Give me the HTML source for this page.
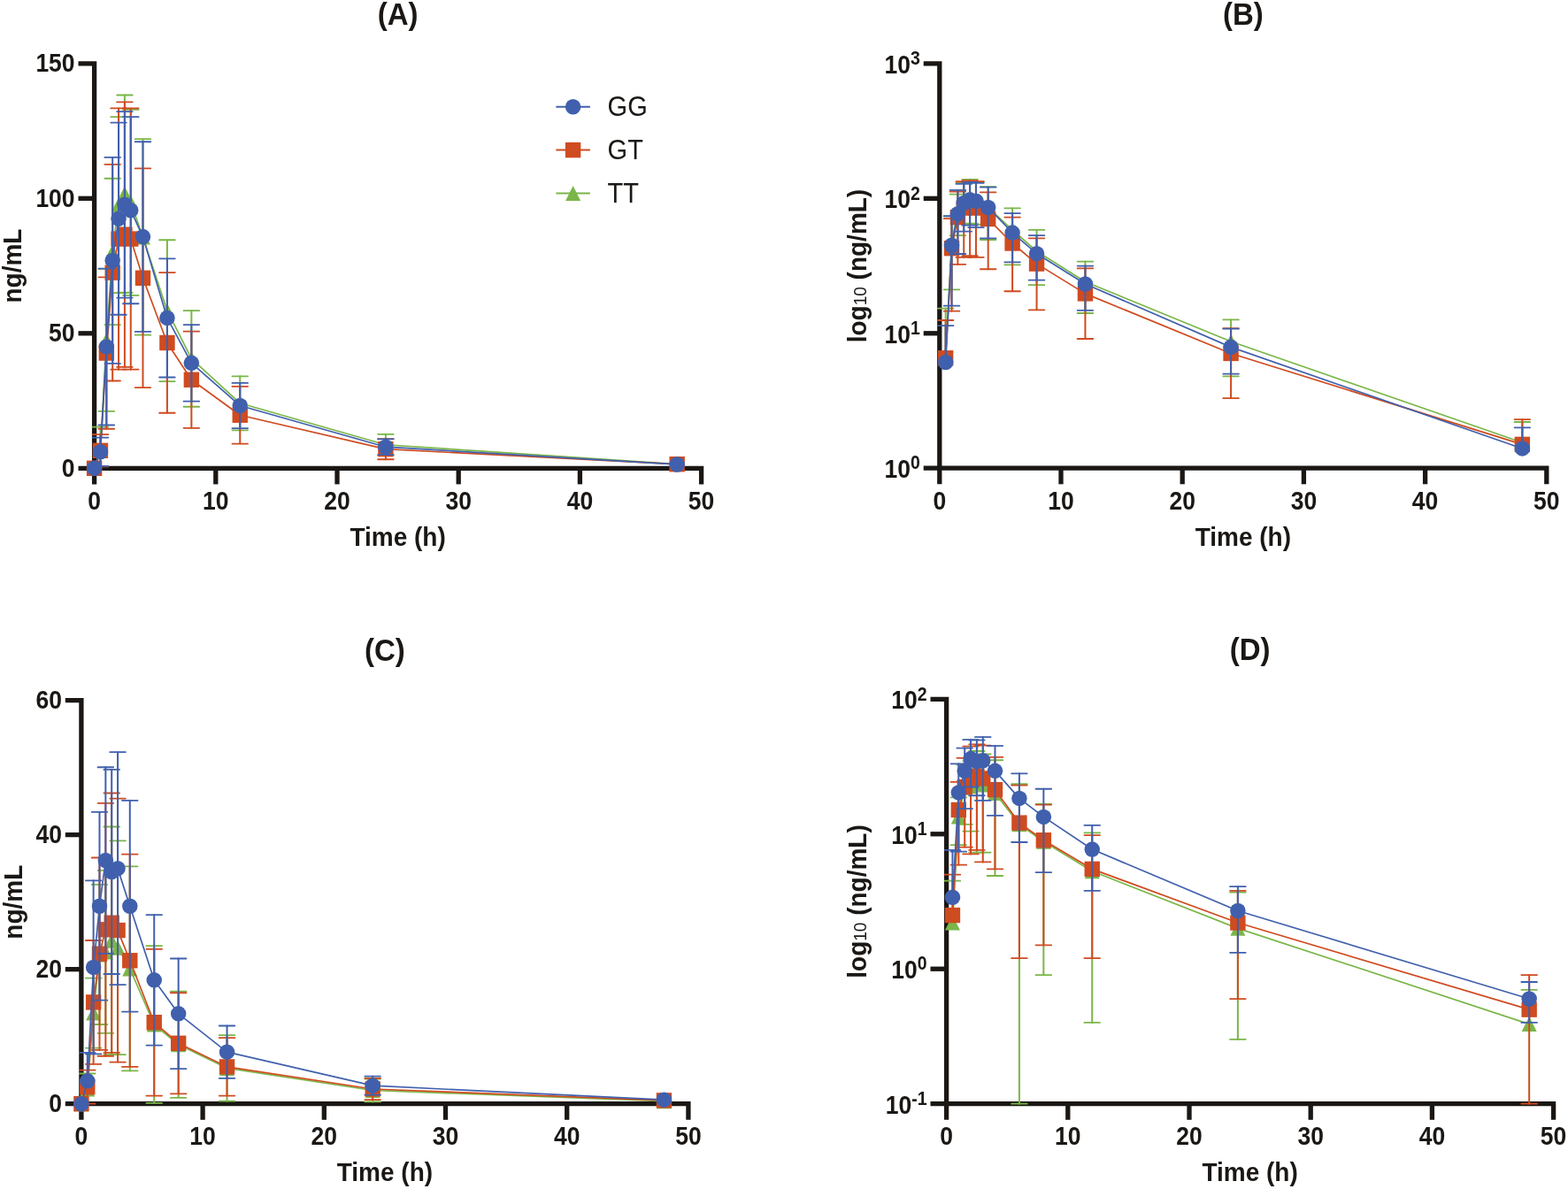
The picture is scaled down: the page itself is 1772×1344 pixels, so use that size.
<!DOCTYPE html><html><head><meta charset="utf-8"><title>Figure</title><style>html,body{margin:0;padding:0;background:#fff;}svg{display:block;}</style></head><body>
<svg width="1772" height="1344" viewBox="0 0 1772 1344" font-family="'Liberation Sans', Arial, sans-serif" fill="#1a1714">
<rect width="1772" height="1344" fill="#fff"/>
<text transform="translate(449.6,27.5) scale(1,1.06)" text-anchor="middle" font-weight="bold" font-size="33">(A)</text>
<g stroke="#1a1714" stroke-width="5.3" fill="none" stroke-linejoin="miter"><path d="M88.5 71.8H106.6V547.4"/><path d="M88.5 529.3H792.6V547.4"/><line x1="88.5" y1="376.8" x2="106.6" y2="376.8"/><line x1="88.5" y1="224.3" x2="106.6" y2="224.3"/><line x1="243.8" y1="529.3" x2="243.8" y2="547.4"/><line x1="381" y1="529.3" x2="381" y2="547.4"/><line x1="518.2" y1="529.3" x2="518.2" y2="547.4"/><line x1="655.4" y1="529.3" x2="655.4" y2="547.4"/></g>
<g stroke="#7ab648" fill="none" stroke-linecap="round"><line x1="113.46" y1="508.25" x2="113.46" y2="482.63" stroke-width="2.0"/><line x1="104.66" y1="482.63" x2="122.26" y2="482.63" stroke-width="1.8"/><line x1="120.32" y1="384.42" x2="120.32" y2="303.9" stroke-width="2.0"/><line x1="111.52" y1="303.9" x2="129.12" y2="303.9" stroke-width="1.8"/><line x1="120.32" y1="384.42" x2="120.32" y2="464.94" stroke-width="2.0"/><line x1="111.52" y1="464.94" x2="129.12" y2="464.94" stroke-width="1.8"/><line x1="127.18" y1="284.38" x2="127.18" y2="201.73" stroke-width="2.0"/><line x1="118.38" y1="201.73" x2="135.98" y2="201.73" stroke-width="1.8"/><line x1="127.18" y1="284.38" x2="127.18" y2="367.04" stroke-width="2.0"/><line x1="118.38" y1="367.04" x2="135.98" y2="367.04" stroke-width="1.8"/><line x1="134.04" y1="231.62" x2="134.04" y2="132.19" stroke-width="2.0"/><line x1="125.24" y1="132.19" x2="142.84" y2="132.19" stroke-width="1.8"/><line x1="134.04" y1="231.62" x2="134.04" y2="331.05" stroke-width="2.0"/><line x1="125.24" y1="331.05" x2="142.84" y2="331.05" stroke-width="1.8"/><line x1="140.9" y1="219.11" x2="140.9" y2="107.49" stroke-width="2.0"/><line x1="132.1" y1="107.49" x2="149.7" y2="107.49" stroke-width="1.8"/><line x1="140.9" y1="219.11" x2="140.9" y2="330.75" stroke-width="2.0"/><line x1="132.1" y1="330.75" x2="149.7" y2="330.75" stroke-width="1.8"/><line x1="147.76" y1="228.88" x2="147.76" y2="123.95" stroke-width="2.0"/><line x1="138.96" y1="123.95" x2="156.56" y2="123.95" stroke-width="1.8"/><line x1="147.76" y1="228.88" x2="147.76" y2="333.79" stroke-width="2.0"/><line x1="138.96" y1="333.79" x2="156.56" y2="333.79" stroke-width="1.8"/><line x1="161.48" y1="267.91" x2="161.48" y2="157.2" stroke-width="2.0"/><line x1="152.68" y1="157.2" x2="170.28" y2="157.2" stroke-width="1.8"/><line x1="161.48" y1="267.91" x2="161.48" y2="378.63" stroke-width="2.0"/><line x1="152.68" y1="378.63" x2="170.28" y2="378.63" stroke-width="1.8"/><line x1="188.92" y1="351.18" x2="188.92" y2="271.27" stroke-width="2.0"/><line x1="180.12" y1="271.27" x2="197.72" y2="271.27" stroke-width="1.8"/><line x1="188.92" y1="351.18" x2="188.92" y2="431.09" stroke-width="2.0"/><line x1="180.12" y1="431.09" x2="197.72" y2="431.09" stroke-width="1.8"/><line x1="216.36" y1="405.47" x2="216.36" y2="351.18" stroke-width="2.0"/><line x1="207.56" y1="351.18" x2="225.16" y2="351.18" stroke-width="1.8"/><line x1="216.36" y1="405.47" x2="216.36" y2="459.76" stroke-width="2.0"/><line x1="207.56" y1="459.76" x2="225.16" y2="459.76" stroke-width="1.8"/><line x1="271.24" y1="455.79" x2="271.24" y2="425.29" stroke-width="2.0"/><line x1="262.44" y1="425.29" x2="280.04" y2="425.29" stroke-width="1.8"/><line x1="271.24" y1="455.79" x2="271.24" y2="486.29" stroke-width="2.0"/><line x1="262.44" y1="486.29" x2="280.04" y2="486.29" stroke-width="1.8"/><line x1="435.88" y1="502.76" x2="435.88" y2="490.87" stroke-width="2.0"/><line x1="427.08" y1="490.87" x2="444.68" y2="490.87" stroke-width="1.8"/><line x1="435.88" y1="502.76" x2="435.88" y2="514.66" stroke-width="2.0"/><line x1="427.08" y1="514.66" x2="444.68" y2="514.66" stroke-width="1.8"/></g>
<polyline points="106.6,529.3 113.46,508.25 120.32,384.42 127.18,284.38 134.04,231.62 140.9,219.11 147.76,228.88 161.48,267.91 188.92,351.18 216.36,405.47 271.24,455.79 435.88,502.76 765.16,524.57" fill="none" stroke="#7ab648" stroke-width="1.7" stroke-linejoin="round"/>
<polygon points="106.6,520.8 115.1,537.8 98.1,537.8" fill="#7ab648"/><polygon points="113.46,499.75 121.96,516.75 104.96,516.75" fill="#7ab648"/><polygon points="120.32,375.92 128.82,392.92 111.82,392.92" fill="#7ab648"/><polygon points="127.18,275.88 135.68,292.88 118.68,292.88" fill="#7ab648"/><polygon points="134.04,223.12 142.54,240.12 125.54,240.12" fill="#7ab648"/><polygon points="140.9,210.61 149.4,227.61 132.4,227.61" fill="#7ab648"/><polygon points="147.76,220.38 156.26,237.38 139.26,237.38" fill="#7ab648"/><polygon points="161.48,259.41 169.98,276.41 152.98,276.41" fill="#7ab648"/><polygon points="188.92,342.68 197.42,359.68 180.42,359.68" fill="#7ab648"/><polygon points="216.36,396.97 224.86,413.97 207.86,413.97" fill="#7ab648"/><polygon points="271.24,447.29 279.74,464.29 262.74,464.29" fill="#7ab648"/><polygon points="435.88,494.26 444.38,511.26 427.38,511.26" fill="#7ab648"/><polygon points="765.16,516.07 773.66,533.07 756.66,533.07" fill="#7ab648"/>
<g stroke="#cf4b20" fill="none" stroke-linecap="round"><line x1="113.46" y1="509.32" x2="113.46" y2="491.17" stroke-width="2.0"/><line x1="104.66" y1="491.17" x2="122.26" y2="491.17" stroke-width="1.8"/><line x1="113.46" y1="509.32" x2="113.46" y2="527.47" stroke-width="2.0"/><line x1="104.66" y1="527.47" x2="122.26" y2="527.47" stroke-width="1.8"/><line x1="120.32" y1="399.06" x2="120.32" y2="313.36" stroke-width="2.0"/><line x1="111.52" y1="313.36" x2="129.12" y2="313.36" stroke-width="1.8"/><line x1="120.32" y1="399.06" x2="120.32" y2="484.77" stroke-width="2.0"/><line x1="111.52" y1="484.77" x2="129.12" y2="484.77" stroke-width="1.8"/><line x1="127.18" y1="308.17" x2="127.18" y2="185.87" stroke-width="2.0"/><line x1="118.38" y1="185.87" x2="135.98" y2="185.87" stroke-width="1.8"/><line x1="127.18" y1="308.17" x2="127.18" y2="430.48" stroke-width="2.0"/><line x1="118.38" y1="430.48" x2="135.98" y2="430.48" stroke-width="1.8"/><line x1="134.04" y1="270.05" x2="134.04" y2="122.43" stroke-width="2.0"/><line x1="125.24" y1="122.43" x2="142.84" y2="122.43" stroke-width="1.8"/><line x1="134.04" y1="270.05" x2="134.04" y2="417.67" stroke-width="2.0"/><line x1="125.24" y1="417.67" x2="142.84" y2="417.67" stroke-width="1.8"/><line x1="140.9" y1="265.17" x2="140.9" y2="115.42" stroke-width="2.0"/><line x1="132.1" y1="115.42" x2="149.7" y2="115.42" stroke-width="1.8"/><line x1="140.9" y1="265.17" x2="140.9" y2="414.93" stroke-width="2.0"/><line x1="132.1" y1="414.93" x2="149.7" y2="414.93" stroke-width="1.8"/><line x1="147.76" y1="270.05" x2="147.76" y2="122.43" stroke-width="2.0"/><line x1="138.96" y1="122.43" x2="156.56" y2="122.43" stroke-width="1.8"/><line x1="147.76" y1="270.05" x2="147.76" y2="417.67" stroke-width="2.0"/><line x1="138.96" y1="417.67" x2="156.56" y2="417.67" stroke-width="1.8"/><line x1="161.48" y1="314.27" x2="161.48" y2="190.45" stroke-width="2.0"/><line x1="152.68" y1="190.45" x2="170.28" y2="190.45" stroke-width="1.8"/><line x1="161.48" y1="314.27" x2="161.48" y2="438.1" stroke-width="2.0"/><line x1="152.68" y1="438.1" x2="170.28" y2="438.1" stroke-width="1.8"/><line x1="188.92" y1="387.47" x2="188.92" y2="308.17" stroke-width="2.0"/><line x1="180.12" y1="308.17" x2="197.72" y2="308.17" stroke-width="1.8"/><line x1="188.92" y1="387.47" x2="188.92" y2="466.77" stroke-width="2.0"/><line x1="180.12" y1="466.77" x2="197.72" y2="466.77" stroke-width="1.8"/><line x1="216.36" y1="429.26" x2="216.36" y2="374.66" stroke-width="2.0"/><line x1="207.56" y1="374.66" x2="225.16" y2="374.66" stroke-width="1.8"/><line x1="216.36" y1="429.26" x2="216.36" y2="483.85" stroke-width="2.0"/><line x1="207.56" y1="483.85" x2="225.16" y2="483.85" stroke-width="1.8"/><line x1="271.24" y1="469.21" x2="271.24" y2="436.88" stroke-width="2.0"/><line x1="262.44" y1="436.88" x2="280.04" y2="436.88" stroke-width="1.8"/><line x1="271.24" y1="469.21" x2="271.24" y2="501.54" stroke-width="2.0"/><line x1="262.44" y1="501.54" x2="280.04" y2="501.54" stroke-width="1.8"/><line x1="435.88" y1="507.64" x2="435.88" y2="496.05" stroke-width="2.0"/><line x1="427.08" y1="496.05" x2="444.68" y2="496.05" stroke-width="1.8"/><line x1="435.88" y1="507.64" x2="435.88" y2="519.23" stroke-width="2.0"/><line x1="427.08" y1="519.23" x2="444.68" y2="519.23" stroke-width="1.8"/></g>
<polyline points="106.6,529.3 113.46,509.32 120.32,399.06 127.18,308.17 134.04,270.05 140.9,265.17 147.76,270.05 161.48,314.27 188.92,387.47 216.36,429.26 271.24,469.21 435.88,507.64 765.16,524.72" fill="none" stroke="#cf4b20" stroke-width="1.7" stroke-linejoin="round"/>
<rect x="97.9" y="520.6" width="17.4" height="17.4" fill="#cf4b20"/><rect x="104.76" y="500.62" width="17.4" height="17.4" fill="#cf4b20"/><rect x="111.62" y="390.36" width="17.4" height="17.4" fill="#cf4b20"/><rect x="118.48" y="299.47" width="17.4" height="17.4" fill="#cf4b20"/><rect x="125.34" y="261.35" width="17.4" height="17.4" fill="#cf4b20"/><rect x="132.2" y="256.47" width="17.4" height="17.4" fill="#cf4b20"/><rect x="139.06" y="261.35" width="17.4" height="17.4" fill="#cf4b20"/><rect x="152.78" y="305.57" width="17.4" height="17.4" fill="#cf4b20"/><rect x="180.22" y="378.77" width="17.4" height="17.4" fill="#cf4b20"/><rect x="207.66" y="420.56" width="17.4" height="17.4" fill="#cf4b20"/><rect x="262.54" y="460.51" width="17.4" height="17.4" fill="#cf4b20"/><rect x="427.18" y="498.94" width="17.4" height="17.4" fill="#cf4b20"/><rect x="756.46" y="516.02" width="17.4" height="17.4" fill="#cf4b20"/>
<g stroke="#4060ad" fill="none" stroke-linecap="round"><line x1="113.46" y1="510.69" x2="113.46" y2="494.53" stroke-width="2.0"/><line x1="104.66" y1="494.53" x2="122.26" y2="494.53" stroke-width="1.8"/><line x1="113.46" y1="510.69" x2="113.46" y2="526.86" stroke-width="2.0"/><line x1="104.66" y1="526.86" x2="122.26" y2="526.86" stroke-width="1.8"/><line x1="120.32" y1="392.05" x2="120.32" y2="303.6" stroke-width="2.0"/><line x1="111.52" y1="303.6" x2="129.12" y2="303.6" stroke-width="1.8"/><line x1="120.32" y1="392.05" x2="120.32" y2="480.5" stroke-width="2.0"/><line x1="111.52" y1="480.5" x2="129.12" y2="480.5" stroke-width="1.8"/><line x1="127.18" y1="294.45" x2="127.18" y2="177.94" stroke-width="2.0"/><line x1="118.38" y1="177.94" x2="135.98" y2="177.94" stroke-width="1.8"/><line x1="127.18" y1="294.45" x2="127.18" y2="410.96" stroke-width="2.0"/><line x1="118.38" y1="410.96" x2="135.98" y2="410.96" stroke-width="1.8"/><line x1="134.04" y1="247.17" x2="134.04" y2="138.6" stroke-width="2.0"/><line x1="125.24" y1="138.6" x2="142.84" y2="138.6" stroke-width="1.8"/><line x1="134.04" y1="247.17" x2="134.04" y2="355.75" stroke-width="2.0"/><line x1="125.24" y1="355.75" x2="142.84" y2="355.75" stroke-width="1.8"/><line x1="140.9" y1="231.31" x2="140.9" y2="126.09" stroke-width="2.0"/><line x1="132.1" y1="126.09" x2="149.7" y2="126.09" stroke-width="1.8"/><line x1="140.9" y1="231.31" x2="140.9" y2="336.54" stroke-width="2.0"/><line x1="132.1" y1="336.54" x2="149.7" y2="336.54" stroke-width="1.8"/><line x1="147.76" y1="237.72" x2="147.76" y2="132.19" stroke-width="2.0"/><line x1="138.96" y1="132.19" x2="156.56" y2="132.19" stroke-width="1.8"/><line x1="147.76" y1="237.72" x2="147.76" y2="343.25" stroke-width="2.0"/><line x1="138.96" y1="343.25" x2="156.56" y2="343.25" stroke-width="1.8"/><line x1="161.48" y1="267.61" x2="161.48" y2="160.25" stroke-width="2.0"/><line x1="152.68" y1="160.25" x2="170.28" y2="160.25" stroke-width="1.8"/><line x1="161.48" y1="267.61" x2="161.48" y2="374.97" stroke-width="2.0"/><line x1="152.68" y1="374.97" x2="170.28" y2="374.97" stroke-width="1.8"/><line x1="188.92" y1="359.41" x2="188.92" y2="292.31" stroke-width="2.0"/><line x1="180.12" y1="292.31" x2="197.72" y2="292.31" stroke-width="1.8"/><line x1="188.92" y1="359.41" x2="188.92" y2="426.51" stroke-width="2.0"/><line x1="180.12" y1="426.51" x2="197.72" y2="426.51" stroke-width="1.8"/><line x1="216.36" y1="410.35" x2="216.36" y2="367.04" stroke-width="2.0"/><line x1="207.56" y1="367.04" x2="225.16" y2="367.04" stroke-width="1.8"/><line x1="216.36" y1="410.35" x2="216.36" y2="453.66" stroke-width="2.0"/><line x1="207.56" y1="453.66" x2="225.16" y2="453.66" stroke-width="1.8"/><line x1="271.24" y1="458.54" x2="271.24" y2="432.92" stroke-width="2.0"/><line x1="262.44" y1="432.92" x2="280.04" y2="432.92" stroke-width="1.8"/><line x1="271.24" y1="458.54" x2="271.24" y2="484.16" stroke-width="2.0"/><line x1="262.44" y1="484.16" x2="280.04" y2="484.16" stroke-width="1.8"/><line x1="435.88" y1="505.2" x2="435.88" y2="496.36" stroke-width="2.0"/><line x1="427.08" y1="496.36" x2="444.68" y2="496.36" stroke-width="1.8"/><line x1="435.88" y1="505.2" x2="435.88" y2="514.05" stroke-width="2.0"/><line x1="427.08" y1="514.05" x2="444.68" y2="514.05" stroke-width="1.8"/></g>
<polyline points="106.6,529.3 113.46,510.69 120.32,392.05 127.18,294.45 134.04,247.17 140.9,231.31 147.76,237.72 161.48,267.61 188.92,359.41 216.36,410.35 271.24,458.54 435.88,505.2 765.16,525.03" fill="none" stroke="#4060ad" stroke-width="1.7" stroke-linejoin="round"/>
<circle cx="106.6" cy="529.3" r="8.75" fill="#4060ad"/><circle cx="113.46" cy="510.69" r="8.75" fill="#4060ad"/><circle cx="120.32" cy="392.05" r="8.75" fill="#4060ad"/><circle cx="127.18" cy="294.45" r="8.75" fill="#4060ad"/><circle cx="134.04" cy="247.17" r="8.75" fill="#4060ad"/><circle cx="140.9" cy="231.31" r="8.75" fill="#4060ad"/><circle cx="147.76" cy="237.72" r="8.75" fill="#4060ad"/><circle cx="161.48" cy="267.61" r="8.75" fill="#4060ad"/><circle cx="188.92" cy="359.41" r="8.75" fill="#4060ad"/><circle cx="216.36" cy="410.35" r="8.75" fill="#4060ad"/><circle cx="271.24" cy="458.54" r="8.75" fill="#4060ad"/><circle cx="435.88" cy="505.2" r="8.75" fill="#4060ad"/><circle cx="765.16" cy="525.03" r="8.75" fill="#4060ad"/>
<text transform="translate(84.6,538.9) scale(1,1.11)" text-anchor="end" font-weight="bold" font-size="26.5">0</text><text transform="translate(84.6,386.4) scale(1,1.11)" text-anchor="end" font-weight="bold" font-size="26.5">50</text><text transform="translate(84.6,233.9) scale(1,1.11)" text-anchor="end" font-weight="bold" font-size="26.5">100</text><text transform="translate(84.6,81.4) scale(1,1.11)" text-anchor="end" font-weight="bold" font-size="26.5">150</text><text transform="translate(106.6,575.9) scale(1,1.11)" text-anchor="middle" font-weight="bold" font-size="26.5">0</text><text transform="translate(243.8,575.9) scale(1,1.11)" text-anchor="middle" font-weight="bold" font-size="26.5">10</text><text transform="translate(381,575.9) scale(1,1.11)" text-anchor="middle" font-weight="bold" font-size="26.5">20</text><text transform="translate(518.2,575.9) scale(1,1.11)" text-anchor="middle" font-weight="bold" font-size="26.5">30</text><text transform="translate(655.4,575.9) scale(1,1.11)" text-anchor="middle" font-weight="bold" font-size="26.5">40</text><text transform="translate(792.6,575.9) scale(1,1.11)" text-anchor="middle" font-weight="bold" font-size="26.5">50</text>
<text transform="translate(449.6,616.6) scale(1,1.08)" text-anchor="middle" font-weight="bold" font-size="28">Time (h)</text>
<text transform="translate(24.3,300.55) rotate(-90) scale(1,1.08)" text-anchor="middle" font-weight="bold" font-size="28">ng/mL</text>
<line x1="628.4" y1="120.7" x2="666.9" y2="120.7" stroke="#4060ad" stroke-width="2.0"/>
<circle cx="647.6" cy="120.7" r="8.75" fill="#4060ad"/>
<text transform="translate(686.6,131.3) scale(1,1.08)" font-size="29">GG</text>
<line x1="628.4" y1="169.6" x2="666.9" y2="169.6" stroke="#cf4b20" stroke-width="2.0"/>
<rect x="638.9" y="160.9" width="17.4" height="17.4" fill="#cf4b20"/>
<text transform="translate(686.6,180.2) scale(1,1.08)" font-size="29">GT</text>
<line x1="628.4" y1="218.4" x2="666.9" y2="218.4" stroke="#7ab648" stroke-width="2.0"/>
<polygon points="647.6,209.9 656.1,226.9 639.1,226.9" fill="#7ab648"/>
<text transform="translate(686.6,229) scale(1,1.08)" font-size="29">TT</text>
<text transform="translate(1404.8,27.6) scale(1,1.06)" text-anchor="middle" font-weight="bold" font-size="33">(B)</text>
<g stroke="#1a1714" stroke-width="5.3" fill="none" stroke-linejoin="miter"><path d="M1043.7 71.9H1061.8V547.3"/><path d="M1043.7 529.2H1747.8V547.3"/><line x1="1043.7" y1="376.77" x2="1061.8" y2="376.77"/><line x1="1043.7" y1="224.33" x2="1061.8" y2="224.33"/><line x1="1199" y1="529.2" x2="1199" y2="547.3"/><line x1="1336.2" y1="529.2" x2="1336.2" y2="547.3"/><line x1="1473.4" y1="529.2" x2="1473.4" y2="547.3"/><line x1="1610.6" y1="529.2" x2="1610.6" y2="547.3"/></g>
<g stroke="#7ab648" fill="none" stroke-linecap="round"><line x1="1068.66" y1="401.33" x2="1068.66" y2="348.61" stroke-width="2.0"/><line x1="1059.86" y1="348.61" x2="1077.46" y2="348.61" stroke-width="1.8"/><line x1="1075.52" y1="273.62" x2="1075.52" y2="244.36" stroke-width="2.0"/><line x1="1066.72" y1="244.36" x2="1084.32" y2="244.36" stroke-width="1.8"/><line x1="1075.52" y1="273.62" x2="1075.52" y2="327.34" stroke-width="2.0"/><line x1="1066.72" y1="327.34" x2="1084.32" y2="327.34" stroke-width="1.8"/><line x1="1082.38" y1="238.86" x2="1082.38" y2="219.61" stroke-width="2.0"/><line x1="1073.58" y1="219.61" x2="1091.18" y2="219.61" stroke-width="1.8"/><line x1="1082.38" y1="238.86" x2="1082.38" y2="266.11" stroke-width="2.0"/><line x1="1073.58" y1="266.11" x2="1091.18" y2="266.11" stroke-width="1.8"/><line x1="1089.24" y1="225.94" x2="1089.24" y2="206.86" stroke-width="2.0"/><line x1="1080.44" y1="206.86" x2="1098.04" y2="206.86" stroke-width="1.8"/><line x1="1089.24" y1="225.94" x2="1089.24" y2="252.85" stroke-width="2.0"/><line x1="1080.44" y1="252.85" x2="1098.04" y2="252.85" stroke-width="1.8"/><line x1="1096.1" y1="223.22" x2="1096.1" y2="202.87" stroke-width="2.0"/><line x1="1087.3" y1="202.87" x2="1104.9" y2="202.87" stroke-width="1.8"/><line x1="1096.1" y1="223.22" x2="1096.1" y2="252.75" stroke-width="2.0"/><line x1="1087.3" y1="252.75" x2="1104.9" y2="252.75" stroke-width="1.8"/><line x1="1102.96" y1="225.33" x2="1102.96" y2="205.5" stroke-width="2.0"/><line x1="1094.16" y1="205.5" x2="1111.76" y2="205.5" stroke-width="1.8"/><line x1="1102.96" y1="225.33" x2="1102.96" y2="253.77" stroke-width="2.0"/><line x1="1094.16" y1="253.77" x2="1111.76" y2="253.77" stroke-width="1.8"/><line x1="1116.68" y1="234.55" x2="1116.68" y2="211.17" stroke-width="2.0"/><line x1="1107.88" y1="211.17" x2="1125.48" y2="211.17" stroke-width="1.8"/><line x1="1116.68" y1="234.55" x2="1116.68" y2="271.02" stroke-width="2.0"/><line x1="1107.88" y1="271.02" x2="1125.48" y2="271.02" stroke-width="1.8"/><line x1="1144.12" y1="259.94" x2="1144.12" y2="235.4" stroke-width="2.0"/><line x1="1135.32" y1="235.4" x2="1152.92" y2="235.4" stroke-width="1.8"/><line x1="1144.12" y1="259.94" x2="1144.12" y2="299.35" stroke-width="2.0"/><line x1="1135.32" y1="299.35" x2="1152.92" y2="299.35" stroke-width="1.8"/><line x1="1171.56" y1="284.01" x2="1171.56" y2="259.94" stroke-width="2.0"/><line x1="1162.76" y1="259.94" x2="1180.36" y2="259.94" stroke-width="1.8"/><line x1="1171.56" y1="284.01" x2="1171.56" y2="322.21" stroke-width="2.0"/><line x1="1162.76" y1="322.21" x2="1180.36" y2="322.21" stroke-width="1.8"/><line x1="1226.44" y1="318.53" x2="1226.44" y2="295.56" stroke-width="2.0"/><line x1="1217.64" y1="295.56" x2="1235.24" y2="295.56" stroke-width="1.8"/><line x1="1226.44" y1="318.53" x2="1226.44" y2="354.02" stroke-width="2.0"/><line x1="1217.64" y1="354.02" x2="1235.24" y2="354.02" stroke-width="1.8"/><line x1="1391.08" y1="385.99" x2="1391.08" y2="361.47" stroke-width="2.0"/><line x1="1382.28" y1="361.47" x2="1399.88" y2="361.47" stroke-width="1.8"/><line x1="1391.08" y1="385.99" x2="1391.08" y2="425.36" stroke-width="2.0"/><line x1="1382.28" y1="425.36" x2="1399.88" y2="425.36" stroke-width="1.8"/><line x1="1720.36" y1="500.19" x2="1720.36" y2="477" stroke-width="2.0"/><line x1="1711.56" y1="477" x2="1729.16" y2="477" stroke-width="1.8"/></g>
<polyline points="1068.66,401.33 1075.52,273.62 1082.38,238.86 1089.24,225.94 1096.1,223.22 1102.96,225.33 1116.68,234.55 1144.12,259.94 1171.56,284.01 1226.44,318.53 1391.08,385.99 1720.36,500.19" fill="none" stroke="#7ab648" stroke-width="1.7" stroke-linejoin="round"/>
<polygon points="1068.66,392.83 1077.16,409.83 1060.16,409.83" fill="#7ab648"/><polygon points="1075.52,265.12 1084.02,282.12 1067.02,282.12" fill="#7ab648"/><polygon points="1082.38,230.36 1090.88,247.36 1073.88,247.36" fill="#7ab648"/><polygon points="1089.24,217.44 1097.74,234.44 1080.74,234.44" fill="#7ab648"/><polygon points="1096.1,214.72 1104.6,231.72 1087.6,231.72" fill="#7ab648"/><polygon points="1102.96,216.83 1111.46,233.83 1094.46,233.83" fill="#7ab648"/><polygon points="1116.68,226.05 1125.18,243.05 1108.18,243.05" fill="#7ab648"/><polygon points="1144.12,251.44 1152.62,268.44 1135.62,268.44" fill="#7ab648"/><polygon points="1171.56,275.51 1180.06,292.51 1163.06,292.51" fill="#7ab648"/><polygon points="1226.44,310.03 1234.94,327.03 1217.94,327.03" fill="#7ab648"/><polygon points="1391.08,377.49 1399.58,394.49 1382.58,394.49" fill="#7ab648"/><polygon points="1720.36,491.69 1728.86,508.69 1711.86,508.69" fill="#7ab648"/>
<g stroke="#cf4b20" fill="none" stroke-linecap="round"><line x1="1068.66" y1="404.78" x2="1068.66" y2="361.99" stroke-width="2.0"/><line x1="1059.86" y1="361.99" x2="1077.46" y2="361.99" stroke-width="1.8"/><line x1="1075.52" y1="280.67" x2="1075.52" y2="247.19" stroke-width="2.0"/><line x1="1066.72" y1="247.19" x2="1084.32" y2="247.19" stroke-width="1.8"/><line x1="1075.52" y1="280.67" x2="1075.52" y2="351.71" stroke-width="2.0"/><line x1="1066.72" y1="351.71" x2="1084.32" y2="351.71" stroke-width="1.8"/><line x1="1082.38" y1="245.62" x2="1082.38" y2="216.48" stroke-width="2.0"/><line x1="1073.58" y1="216.48" x2="1091.18" y2="216.48" stroke-width="1.8"/><line x1="1082.38" y1="245.62" x2="1082.38" y2="298.94" stroke-width="2.0"/><line x1="1073.58" y1="298.94" x2="1091.18" y2="298.94" stroke-width="1.8"/><line x1="1089.24" y1="235.09" x2="1089.24" y2="205.26" stroke-width="2.0"/><line x1="1080.44" y1="205.26" x2="1098.04" y2="205.26" stroke-width="1.8"/><line x1="1089.24" y1="235.09" x2="1089.24" y2="290.87" stroke-width="2.0"/><line x1="1080.44" y1="290.87" x2="1098.04" y2="290.87" stroke-width="1.8"/><line x1="1096.1" y1="233.86" x2="1096.1" y2="204.12" stroke-width="2.0"/><line x1="1087.3" y1="204.12" x2="1104.9" y2="204.12" stroke-width="1.8"/><line x1="1096.1" y1="233.86" x2="1096.1" y2="289.27" stroke-width="2.0"/><line x1="1087.3" y1="289.27" x2="1104.9" y2="289.27" stroke-width="1.8"/><line x1="1102.96" y1="235.09" x2="1102.96" y2="205.26" stroke-width="2.0"/><line x1="1094.16" y1="205.26" x2="1111.76" y2="205.26" stroke-width="1.8"/><line x1="1102.96" y1="235.09" x2="1102.96" y2="290.87" stroke-width="2.0"/><line x1="1094.16" y1="290.87" x2="1111.76" y2="290.87" stroke-width="1.8"/><line x1="1116.68" y1="247.47" x2="1116.68" y2="217.36" stroke-width="2.0"/><line x1="1107.88" y1="217.36" x2="1125.48" y2="217.36" stroke-width="1.8"/><line x1="1116.68" y1="247.47" x2="1116.68" y2="304.26" stroke-width="2.0"/><line x1="1107.88" y1="304.26" x2="1125.48" y2="304.26" stroke-width="1.8"/><line x1="1144.12" y1="275.02" x2="1144.12" y2="245.62" stroke-width="2.0"/><line x1="1135.32" y1="245.62" x2="1152.92" y2="245.62" stroke-width="1.8"/><line x1="1144.12" y1="275.02" x2="1144.12" y2="329.24" stroke-width="2.0"/><line x1="1135.32" y1="329.24" x2="1152.92" y2="329.24" stroke-width="1.8"/><line x1="1171.56" y1="298.13" x2="1171.56" y2="269.3" stroke-width="2.0"/><line x1="1162.76" y1="269.3" x2="1180.36" y2="269.3" stroke-width="1.8"/><line x1="1171.56" y1="298.13" x2="1171.56" y2="350.37" stroke-width="2.0"/><line x1="1162.76" y1="350.37" x2="1180.36" y2="350.37" stroke-width="1.8"/><line x1="1226.44" y1="331.88" x2="1226.44" y2="303.38" stroke-width="2.0"/><line x1="1217.64" y1="303.38" x2="1235.24" y2="303.38" stroke-width="1.8"/><line x1="1226.44" y1="331.88" x2="1226.44" y2="383.01" stroke-width="2.0"/><line x1="1217.64" y1="383.01" x2="1235.24" y2="383.01" stroke-width="1.8"/><line x1="1391.08" y1="399.44" x2="1391.08" y2="371.06" stroke-width="2.0"/><line x1="1382.28" y1="371.06" x2="1399.88" y2="371.06" stroke-width="1.8"/><line x1="1391.08" y1="399.44" x2="1391.08" y2="450.16" stroke-width="2.0"/><line x1="1382.28" y1="450.16" x2="1399.88" y2="450.16" stroke-width="1.8"/><line x1="1720.36" y1="502.36" x2="1720.36" y2="474.06" stroke-width="2.0"/><line x1="1711.56" y1="474.06" x2="1729.16" y2="474.06" stroke-width="1.8"/></g>
<polyline points="1068.66,404.78 1075.52,280.67 1082.38,245.62 1089.24,235.09 1096.1,233.86 1102.96,235.09 1116.68,247.47 1144.12,275.02 1171.56,298.13 1226.44,331.88 1391.08,399.44 1720.36,502.36" fill="none" stroke="#cf4b20" stroke-width="1.7" stroke-linejoin="round"/>
<rect x="1059.96" y="396.08" width="17.4" height="17.4" fill="#cf4b20"/><rect x="1066.82" y="271.97" width="17.4" height="17.4" fill="#cf4b20"/><rect x="1073.68" y="236.92" width="17.4" height="17.4" fill="#cf4b20"/><rect x="1080.54" y="226.39" width="17.4" height="17.4" fill="#cf4b20"/><rect x="1087.4" y="225.16" width="17.4" height="17.4" fill="#cf4b20"/><rect x="1094.26" y="226.39" width="17.4" height="17.4" fill="#cf4b20"/><rect x="1107.98" y="238.77" width="17.4" height="17.4" fill="#cf4b20"/><rect x="1135.42" y="266.32" width="17.4" height="17.4" fill="#cf4b20"/><rect x="1162.86" y="289.43" width="17.4" height="17.4" fill="#cf4b20"/><rect x="1217.74" y="323.18" width="17.4" height="17.4" fill="#cf4b20"/><rect x="1382.38" y="390.74" width="17.4" height="17.4" fill="#cf4b20"/><rect x="1711.66" y="493.66" width="17.4" height="17.4" fill="#cf4b20"/>
<g stroke="#4060ad" fill="none" stroke-linecap="round"><line x1="1068.66" y1="409.49" x2="1068.66" y2="368.09" stroke-width="2.0"/><line x1="1059.86" y1="368.09" x2="1077.46" y2="368.09" stroke-width="1.8"/><line x1="1075.52" y1="277.2" x2="1075.52" y2="244.27" stroke-width="2.0"/><line x1="1066.72" y1="244.27" x2="1084.32" y2="244.27" stroke-width="1.8"/><line x1="1075.52" y1="277.2" x2="1075.52" y2="345.65" stroke-width="2.0"/><line x1="1066.72" y1="345.65" x2="1084.32" y2="345.65" stroke-width="1.8"/><line x1="1082.38" y1="241.64" x2="1082.38" y2="214.97" stroke-width="2.0"/><line x1="1073.58" y1="214.97" x2="1091.18" y2="214.97" stroke-width="1.8"/><line x1="1082.38" y1="241.64" x2="1082.38" y2="287.01" stroke-width="2.0"/><line x1="1073.58" y1="287.01" x2="1091.18" y2="287.01" stroke-width="1.8"/><line x1="1089.24" y1="229.49" x2="1089.24" y2="207.94" stroke-width="2.0"/><line x1="1080.44" y1="207.94" x2="1098.04" y2="207.94" stroke-width="1.8"/><line x1="1089.24" y1="229.49" x2="1089.24" y2="261.66" stroke-width="2.0"/><line x1="1080.44" y1="261.66" x2="1098.04" y2="261.66" stroke-width="1.8"/><line x1="1096.1" y1="225.87" x2="1096.1" y2="205.85" stroke-width="2.0"/><line x1="1087.3" y1="205.85" x2="1104.9" y2="205.85" stroke-width="1.8"/><line x1="1096.1" y1="225.87" x2="1096.1" y2="254.71" stroke-width="2.0"/><line x1="1087.3" y1="254.71" x2="1104.9" y2="254.71" stroke-width="1.8"/><line x1="1102.96" y1="227.31" x2="1102.96" y2="206.86" stroke-width="2.0"/><line x1="1094.16" y1="206.86" x2="1111.76" y2="206.86" stroke-width="1.8"/><line x1="1102.96" y1="227.31" x2="1102.96" y2="257.06" stroke-width="2.0"/><line x1="1094.16" y1="257.06" x2="1111.76" y2="257.06" stroke-width="1.8"/><line x1="1116.68" y1="234.47" x2="1116.68" y2="211.71" stroke-width="2.0"/><line x1="1107.88" y1="211.71" x2="1125.48" y2="211.71" stroke-width="1.8"/><line x1="1116.68" y1="234.47" x2="1116.68" y2="269.43" stroke-width="2.0"/><line x1="1107.88" y1="269.43" x2="1125.48" y2="269.43" stroke-width="1.8"/><line x1="1144.12" y1="263.07" x2="1144.12" y2="241.04" stroke-width="2.0"/><line x1="1135.32" y1="241.04" x2="1152.92" y2="241.04" stroke-width="1.8"/><line x1="1144.12" y1="263.07" x2="1144.12" y2="296.34" stroke-width="2.0"/><line x1="1135.32" y1="296.34" x2="1152.92" y2="296.34" stroke-width="1.8"/><line x1="1171.56" y1="286.67" x2="1171.56" y2="266.11" stroke-width="2.0"/><line x1="1162.76" y1="266.11" x2="1180.36" y2="266.11" stroke-width="1.8"/><line x1="1171.56" y1="286.67" x2="1171.56" y2="316.64" stroke-width="2.0"/><line x1="1162.76" y1="316.64" x2="1180.36" y2="316.64" stroke-width="1.8"/><line x1="1226.44" y1="321.05" x2="1226.44" y2="300.6" stroke-width="2.0"/><line x1="1217.64" y1="300.6" x2="1235.24" y2="300.6" stroke-width="1.8"/><line x1="1226.44" y1="321.05" x2="1226.44" y2="350.81" stroke-width="2.0"/><line x1="1217.64" y1="350.81" x2="1235.24" y2="350.81" stroke-width="1.8"/><line x1="1391.08" y1="392.37" x2="1391.08" y2="371.67" stroke-width="2.0"/><line x1="1382.28" y1="371.67" x2="1399.88" y2="371.67" stroke-width="1.8"/><line x1="1391.08" y1="392.37" x2="1391.08" y2="422.65" stroke-width="2.0"/><line x1="1382.28" y1="422.65" x2="1399.88" y2="422.65" stroke-width="1.8"/><line x1="1720.36" y1="506.93" x2="1720.36" y2="483.31" stroke-width="2.0"/><line x1="1711.56" y1="483.31" x2="1729.16" y2="483.31" stroke-width="1.8"/></g>
<polyline points="1068.66,409.49 1075.52,277.2 1082.38,241.64 1089.24,229.49 1096.1,225.87 1102.96,227.31 1116.68,234.47 1144.12,263.07 1171.56,286.67 1226.44,321.05 1391.08,392.37 1720.36,506.93" fill="none" stroke="#4060ad" stroke-width="1.7" stroke-linejoin="round"/>
<circle cx="1068.66" cy="409.49" r="8.75" fill="#4060ad"/><circle cx="1075.52" cy="277.2" r="8.75" fill="#4060ad"/><circle cx="1082.38" cy="241.64" r="8.75" fill="#4060ad"/><circle cx="1089.24" cy="229.49" r="8.75" fill="#4060ad"/><circle cx="1096.1" cy="225.87" r="8.75" fill="#4060ad"/><circle cx="1102.96" cy="227.31" r="8.75" fill="#4060ad"/><circle cx="1116.68" cy="234.47" r="8.75" fill="#4060ad"/><circle cx="1144.12" cy="263.07" r="8.75" fill="#4060ad"/><circle cx="1171.56" cy="286.67" r="8.75" fill="#4060ad"/><circle cx="1226.44" cy="321.05" r="8.75" fill="#4060ad"/><circle cx="1391.08" cy="392.37" r="8.75" fill="#4060ad"/><circle cx="1720.36" cy="506.93" r="8.75" fill="#4060ad"/>
<text transform="translate(1039.8,540.2) scale(1,1.11)" text-anchor="end" font-weight="bold" font-size="26.5">10<tspan font-size="19.5" dy="-8.8">0</tspan></text><text transform="translate(1039.8,387.77) scale(1,1.11)" text-anchor="end" font-weight="bold" font-size="26.5">10<tspan font-size="19.5" dy="-8.8">1</tspan></text><text transform="translate(1039.8,235.33) scale(1,1.11)" text-anchor="end" font-weight="bold" font-size="26.5">10<tspan font-size="19.5" dy="-8.8">2</tspan></text><text transform="translate(1039.8,82.9) scale(1,1.11)" text-anchor="end" font-weight="bold" font-size="26.5">10<tspan font-size="19.5" dy="-8.8">3</tspan></text><text transform="translate(1061.8,575.8) scale(1,1.11)" text-anchor="middle" font-weight="bold" font-size="26.5">0</text><text transform="translate(1199,575.8) scale(1,1.11)" text-anchor="middle" font-weight="bold" font-size="26.5">10</text><text transform="translate(1336.2,575.8) scale(1,1.11)" text-anchor="middle" font-weight="bold" font-size="26.5">20</text><text transform="translate(1473.4,575.8) scale(1,1.11)" text-anchor="middle" font-weight="bold" font-size="26.5">30</text><text transform="translate(1610.6,575.8) scale(1,1.11)" text-anchor="middle" font-weight="bold" font-size="26.5">40</text><text transform="translate(1747.8,575.8) scale(1,1.11)" text-anchor="middle" font-weight="bold" font-size="26.5">50</text>
<text transform="translate(1404.8,616.5) scale(1,1.08)" text-anchor="middle" font-weight="bold" font-size="28">Time (h)</text>
<text transform="translate(978.6,300.55) rotate(-90) scale(1,1.08)" text-anchor="middle" font-weight="bold" font-size="28">log<tspan font-weight="normal" font-size="19">10</tspan> (ng/mL)</text>
<text transform="translate(434.9,747.3) scale(1,1.06)" text-anchor="middle" font-weight="bold" font-size="33">(C)</text>
<g stroke="#1a1714" stroke-width="5.3" fill="none" stroke-linejoin="miter"><path d="M73.8 791.6H91.9V1265.8"/><path d="M73.8 1247.7H777.9V1265.8"/><line x1="73.8" y1="1095.67" x2="91.9" y2="1095.67"/><line x1="73.8" y1="943.63" x2="91.9" y2="943.63"/><line x1="229.1" y1="1247.7" x2="229.1" y2="1265.8"/><line x1="366.3" y1="1247.7" x2="366.3" y2="1265.8"/><line x1="503.5" y1="1247.7" x2="503.5" y2="1265.8"/><line x1="640.7" y1="1247.7" x2="640.7" y2="1265.8"/></g>
<g stroke="#7ab648" fill="none" stroke-linecap="round"><line x1="98.76" y1="1230.98" x2="98.76" y2="1213.49" stroke-width="2.0"/><line x1="89.96" y1="1213.49" x2="107.56" y2="1213.49" stroke-width="1.8"/><line x1="105.62" y1="1145.08" x2="105.62" y2="1105.55" stroke-width="2.0"/><line x1="96.82" y1="1105.55" x2="114.42" y2="1105.55" stroke-width="1.8"/><line x1="105.62" y1="1145.08" x2="105.62" y2="1184.61" stroke-width="2.0"/><line x1="96.82" y1="1184.61" x2="114.42" y2="1184.61" stroke-width="1.8"/><line x1="112.48" y1="1078.94" x2="112.48" y2="999.89" stroke-width="2.0"/><line x1="103.68" y1="999.89" x2="121.28" y2="999.89" stroke-width="1.8"/><line x1="112.48" y1="1078.94" x2="112.48" y2="1158" stroke-width="2.0"/><line x1="103.68" y1="1158" x2="121.28" y2="1158" stroke-width="1.8"/><line x1="119.34" y1="1075.9" x2="119.34" y2="983.92" stroke-width="2.0"/><line x1="110.54" y1="983.92" x2="128.14" y2="983.92" stroke-width="1.8"/><line x1="119.34" y1="1075.9" x2="119.34" y2="1167.88" stroke-width="2.0"/><line x1="110.54" y1="1167.88" x2="128.14" y2="1167.88" stroke-width="1.8"/><line x1="126.2" y1="1063.36" x2="126.2" y2="934.51" stroke-width="2.0"/><line x1="117.4" y1="934.51" x2="135" y2="934.51" stroke-width="1.8"/><line x1="126.2" y1="1063.36" x2="126.2" y2="1192.21" stroke-width="2.0"/><line x1="117.4" y1="1192.21" x2="135" y2="1192.21" stroke-width="1.8"/><line x1="133.06" y1="1071.34" x2="133.06" y2="950.47" stroke-width="2.0"/><line x1="124.26" y1="950.47" x2="141.86" y2="950.47" stroke-width="1.8"/><line x1="133.06" y1="1071.34" x2="133.06" y2="1192.21" stroke-width="2.0"/><line x1="124.26" y1="1192.21" x2="141.86" y2="1192.21" stroke-width="1.8"/><line x1="146.78" y1="1094.91" x2="146.78" y2="979.36" stroke-width="2.0"/><line x1="137.98" y1="979.36" x2="155.58" y2="979.36" stroke-width="1.8"/><line x1="146.78" y1="1094.91" x2="146.78" y2="1210.45" stroke-width="2.0"/><line x1="137.98" y1="1210.45" x2="155.58" y2="1210.45" stroke-width="1.8"/><line x1="174.22" y1="1158" x2="174.22" y2="1069.06" stroke-width="2.0"/><line x1="165.42" y1="1069.06" x2="183.02" y2="1069.06" stroke-width="1.8"/><line x1="174.22" y1="1158" x2="174.22" y2="1246.94" stroke-width="2.0"/><line x1="165.42" y1="1246.94" x2="183.02" y2="1246.94" stroke-width="1.8"/><line x1="201.66" y1="1180.81" x2="201.66" y2="1120.75" stroke-width="2.0"/><line x1="192.86" y1="1120.75" x2="210.46" y2="1120.75" stroke-width="1.8"/><line x1="201.66" y1="1180.81" x2="201.66" y2="1240.86" stroke-width="2.0"/><line x1="192.86" y1="1240.86" x2="210.46" y2="1240.86" stroke-width="1.8"/><line x1="256.54" y1="1207.41" x2="256.54" y2="1170.16" stroke-width="2.0"/><line x1="247.74" y1="1170.16" x2="265.34" y2="1170.16" stroke-width="1.8"/><line x1="256.54" y1="1207.41" x2="256.54" y2="1244.66" stroke-width="2.0"/><line x1="247.74" y1="1244.66" x2="265.34" y2="1244.66" stroke-width="1.8"/><line x1="421.18" y1="1232.5" x2="421.18" y2="1219.57" stroke-width="2.0"/><line x1="412.38" y1="1219.57" x2="429.98" y2="1219.57" stroke-width="1.8"/><line x1="421.18" y1="1232.5" x2="421.18" y2="1245.42" stroke-width="2.0"/><line x1="412.38" y1="1245.42" x2="429.98" y2="1245.42" stroke-width="1.8"/></g>
<polyline points="91.9,1247.7 98.76,1230.98 105.62,1145.08 112.48,1078.94 119.34,1075.9 126.2,1063.36 133.06,1071.34 146.78,1094.91 174.22,1158 201.66,1180.81 256.54,1207.41 421.18,1232.5 750.46,1244.74" fill="none" stroke="#7ab648" stroke-width="1.7" stroke-linejoin="round"/>
<polygon points="91.9,1239.2 100.4,1256.2 83.4,1256.2" fill="#7ab648"/><polygon points="98.76,1222.48 107.26,1239.48 90.26,1239.48" fill="#7ab648"/><polygon points="105.62,1136.58 114.12,1153.58 97.12,1153.58" fill="#7ab648"/><polygon points="112.48,1070.44 120.98,1087.44 103.98,1087.44" fill="#7ab648"/><polygon points="119.34,1067.4 127.84,1084.4 110.84,1084.4" fill="#7ab648"/><polygon points="126.2,1054.86 134.7,1071.86 117.7,1071.86" fill="#7ab648"/><polygon points="133.06,1062.84 141.56,1079.84 124.56,1079.84" fill="#7ab648"/><polygon points="146.78,1086.41 155.28,1103.41 138.28,1103.41" fill="#7ab648"/><polygon points="174.22,1149.5 182.72,1166.5 165.72,1166.5" fill="#7ab648"/><polygon points="201.66,1172.31 210.16,1189.31 193.16,1189.31" fill="#7ab648"/><polygon points="256.54,1198.91 265.04,1215.91 248.04,1215.91" fill="#7ab648"/><polygon points="421.18,1224 429.68,1241 412.68,1241" fill="#7ab648"/><polygon points="750.46,1236.24 758.96,1253.24 741.96,1253.24" fill="#7ab648"/>
<g stroke="#cf4b20" fill="none" stroke-linecap="round"><line x1="98.76" y1="1228.7" x2="98.76" y2="1209.69" stroke-width="2.0"/><line x1="89.96" y1="1209.69" x2="107.56" y2="1209.69" stroke-width="1.8"/><line x1="98.76" y1="1228.7" x2="98.76" y2="1247.7" stroke-width="2.0"/><line x1="89.96" y1="1247.7" x2="107.56" y2="1247.7" stroke-width="1.8"/><line x1="105.62" y1="1132.91" x2="105.62" y2="1062.98" stroke-width="2.0"/><line x1="96.82" y1="1062.98" x2="114.42" y2="1062.98" stroke-width="1.8"/><line x1="105.62" y1="1132.91" x2="105.62" y2="1202.85" stroke-width="2.0"/><line x1="96.82" y1="1202.85" x2="114.42" y2="1202.85" stroke-width="1.8"/><line x1="112.48" y1="1078.18" x2="112.48" y2="969.48" stroke-width="2.0"/><line x1="103.68" y1="969.48" x2="121.28" y2="969.48" stroke-width="1.8"/><line x1="112.48" y1="1078.18" x2="112.48" y2="1186.89" stroke-width="2.0"/><line x1="103.68" y1="1186.89" x2="121.28" y2="1186.89" stroke-width="1.8"/><line x1="119.34" y1="1050.82" x2="119.34" y2="907.91" stroke-width="2.0"/><line x1="110.54" y1="907.91" x2="128.14" y2="907.91" stroke-width="1.8"/><line x1="119.34" y1="1050.82" x2="119.34" y2="1193.73" stroke-width="2.0"/><line x1="110.54" y1="1193.73" x2="128.14" y2="1193.73" stroke-width="1.8"/><line x1="126.2" y1="1043.22" x2="126.2" y2="896.5" stroke-width="2.0"/><line x1="117.4" y1="896.5" x2="135" y2="896.5" stroke-width="1.8"/><line x1="126.2" y1="1043.22" x2="126.2" y2="1189.93" stroke-width="2.0"/><line x1="117.4" y1="1189.93" x2="135" y2="1189.93" stroke-width="1.8"/><line x1="133.06" y1="1051.58" x2="133.06" y2="902.58" stroke-width="2.0"/><line x1="124.26" y1="902.58" x2="141.86" y2="902.58" stroke-width="1.8"/><line x1="133.06" y1="1051.58" x2="133.06" y2="1200.57" stroke-width="2.0"/><line x1="124.26" y1="1200.57" x2="141.86" y2="1200.57" stroke-width="1.8"/><line x1="146.78" y1="1085.78" x2="146.78" y2="965.68" stroke-width="2.0"/><line x1="137.98" y1="965.68" x2="155.58" y2="965.68" stroke-width="1.8"/><line x1="146.78" y1="1085.78" x2="146.78" y2="1205.89" stroke-width="2.0"/><line x1="137.98" y1="1205.89" x2="155.58" y2="1205.89" stroke-width="1.8"/><line x1="174.22" y1="1155.72" x2="174.22" y2="1072.86" stroke-width="2.0"/><line x1="165.42" y1="1072.86" x2="183.02" y2="1072.86" stroke-width="1.8"/><line x1="174.22" y1="1155.72" x2="174.22" y2="1238.58" stroke-width="2.0"/><line x1="165.42" y1="1238.58" x2="183.02" y2="1238.58" stroke-width="1.8"/><line x1="201.66" y1="1179.29" x2="201.66" y2="1122.27" stroke-width="2.0"/><line x1="192.86" y1="1122.27" x2="210.46" y2="1122.27" stroke-width="1.8"/><line x1="201.66" y1="1179.29" x2="201.66" y2="1236.3" stroke-width="2.0"/><line x1="192.86" y1="1236.3" x2="210.46" y2="1236.3" stroke-width="1.8"/><line x1="256.54" y1="1205.89" x2="256.54" y2="1173.2" stroke-width="2.0"/><line x1="247.74" y1="1173.2" x2="265.34" y2="1173.2" stroke-width="1.8"/><line x1="256.54" y1="1205.89" x2="256.54" y2="1238.58" stroke-width="2.0"/><line x1="247.74" y1="1238.58" x2="265.34" y2="1238.58" stroke-width="1.8"/><line x1="421.18" y1="1230.98" x2="421.18" y2="1218.81" stroke-width="2.0"/><line x1="412.38" y1="1218.81" x2="429.98" y2="1218.81" stroke-width="1.8"/><line x1="421.18" y1="1230.98" x2="421.18" y2="1243.14" stroke-width="2.0"/><line x1="412.38" y1="1243.14" x2="429.98" y2="1243.14" stroke-width="1.8"/></g>
<polyline points="91.9,1247.7 98.76,1228.7 105.62,1132.91 112.48,1078.18 119.34,1050.82 126.2,1043.22 133.06,1051.58 146.78,1085.78 174.22,1155.72 201.66,1179.29 256.54,1205.89 421.18,1230.98 750.46,1243.9" fill="none" stroke="#cf4b20" stroke-width="1.7" stroke-linejoin="round"/>
<rect x="83.2" y="1239" width="17.4" height="17.4" fill="#cf4b20"/><rect x="90.06" y="1220" width="17.4" height="17.4" fill="#cf4b20"/><rect x="96.92" y="1124.21" width="17.4" height="17.4" fill="#cf4b20"/><rect x="103.78" y="1069.48" width="17.4" height="17.4" fill="#cf4b20"/><rect x="110.64" y="1042.12" width="17.4" height="17.4" fill="#cf4b20"/><rect x="117.5" y="1034.52" width="17.4" height="17.4" fill="#cf4b20"/><rect x="124.36" y="1042.88" width="17.4" height="17.4" fill="#cf4b20"/><rect x="138.08" y="1077.08" width="17.4" height="17.4" fill="#cf4b20"/><rect x="165.52" y="1147.02" width="17.4" height="17.4" fill="#cf4b20"/><rect x="192.96" y="1170.59" width="17.4" height="17.4" fill="#cf4b20"/><rect x="247.84" y="1197.19" width="17.4" height="17.4" fill="#cf4b20"/><rect x="412.48" y="1222.28" width="17.4" height="17.4" fill="#cf4b20"/><rect x="741.76" y="1235.2" width="17.4" height="17.4" fill="#cf4b20"/>
<g stroke="#4060ad" fill="none" stroke-linecap="round"><line x1="98.76" y1="1221.85" x2="98.76" y2="1189.93" stroke-width="2.0"/><line x1="89.96" y1="1189.93" x2="107.56" y2="1189.93" stroke-width="1.8"/><line x1="105.62" y1="1093.39" x2="105.62" y2="995.32" stroke-width="2.0"/><line x1="96.82" y1="995.32" x2="114.42" y2="995.32" stroke-width="1.8"/><line x1="105.62" y1="1093.39" x2="105.62" y2="1191.45" stroke-width="2.0"/><line x1="96.82" y1="1191.45" x2="114.42" y2="1191.45" stroke-width="1.8"/><line x1="112.48" y1="1024.21" x2="112.48" y2="917.79" stroke-width="2.0"/><line x1="103.68" y1="917.79" x2="121.28" y2="917.79" stroke-width="1.8"/><line x1="112.48" y1="1024.21" x2="112.48" y2="1130.63" stroke-width="2.0"/><line x1="103.68" y1="1130.63" x2="121.28" y2="1130.63" stroke-width="1.8"/><line x1="119.34" y1="972.52" x2="119.34" y2="867.24" stroke-width="2.0"/><line x1="110.54" y1="867.24" x2="128.14" y2="867.24" stroke-width="1.8"/><line x1="119.34" y1="972.52" x2="119.34" y2="1077.8" stroke-width="2.0"/><line x1="110.54" y1="1077.8" x2="128.14" y2="1077.8" stroke-width="1.8"/><line x1="126.2" y1="985.44" x2="126.2" y2="869.9" stroke-width="2.0"/><line x1="117.4" y1="869.9" x2="135" y2="869.9" stroke-width="1.8"/><line x1="126.2" y1="985.44" x2="126.2" y2="1100.99" stroke-width="2.0"/><line x1="117.4" y1="1100.99" x2="135" y2="1100.99" stroke-width="1.8"/><line x1="133.06" y1="981.64" x2="133.06" y2="850.13" stroke-width="2.0"/><line x1="124.26" y1="850.13" x2="141.86" y2="850.13" stroke-width="1.8"/><line x1="133.06" y1="981.64" x2="133.06" y2="1113.15" stroke-width="2.0"/><line x1="124.26" y1="1113.15" x2="141.86" y2="1113.15" stroke-width="1.8"/><line x1="146.78" y1="1024.21" x2="146.78" y2="904.86" stroke-width="2.0"/><line x1="137.98" y1="904.86" x2="155.58" y2="904.86" stroke-width="1.8"/><line x1="146.78" y1="1024.21" x2="146.78" y2="1143.56" stroke-width="2.0"/><line x1="137.98" y1="1143.56" x2="155.58" y2="1143.56" stroke-width="1.8"/><line x1="174.22" y1="1107.83" x2="174.22" y2="1034.09" stroke-width="2.0"/><line x1="165.42" y1="1034.09" x2="183.02" y2="1034.09" stroke-width="1.8"/><line x1="174.22" y1="1107.83" x2="174.22" y2="1181.57" stroke-width="2.0"/><line x1="165.42" y1="1181.57" x2="183.02" y2="1181.57" stroke-width="1.8"/><line x1="201.66" y1="1145.84" x2="201.66" y2="1083.5" stroke-width="2.0"/><line x1="192.86" y1="1083.5" x2="210.46" y2="1083.5" stroke-width="1.8"/><line x1="201.66" y1="1145.84" x2="201.66" y2="1208.17" stroke-width="2.0"/><line x1="192.86" y1="1208.17" x2="210.46" y2="1208.17" stroke-width="1.8"/><line x1="256.54" y1="1189.17" x2="256.54" y2="1159.52" stroke-width="2.0"/><line x1="247.74" y1="1159.52" x2="265.34" y2="1159.52" stroke-width="1.8"/><line x1="256.54" y1="1189.17" x2="256.54" y2="1218.81" stroke-width="2.0"/><line x1="247.74" y1="1218.81" x2="265.34" y2="1218.81" stroke-width="1.8"/><line x1="421.18" y1="1227.18" x2="421.18" y2="1216.69" stroke-width="2.0"/><line x1="412.38" y1="1216.69" x2="429.98" y2="1216.69" stroke-width="1.8"/><line x1="421.18" y1="1227.18" x2="421.18" y2="1237.67" stroke-width="2.0"/><line x1="412.38" y1="1237.67" x2="429.98" y2="1237.67" stroke-width="1.8"/></g>
<polyline points="91.9,1247.7 98.76,1221.85 105.62,1093.39 112.48,1024.21 119.34,972.52 126.2,985.44 133.06,981.64 146.78,1024.21 174.22,1107.83 201.66,1145.84 256.54,1189.17 421.18,1227.18 750.46,1243.14" fill="none" stroke="#4060ad" stroke-width="1.7" stroke-linejoin="round"/>
<circle cx="91.9" cy="1247.7" r="8.75" fill="#4060ad"/><circle cx="98.76" cy="1221.85" r="8.75" fill="#4060ad"/><circle cx="105.62" cy="1093.39" r="8.75" fill="#4060ad"/><circle cx="112.48" cy="1024.21" r="8.75" fill="#4060ad"/><circle cx="119.34" cy="972.52" r="8.75" fill="#4060ad"/><circle cx="126.2" cy="985.44" r="8.75" fill="#4060ad"/><circle cx="133.06" cy="981.64" r="8.75" fill="#4060ad"/><circle cx="146.78" cy="1024.21" r="8.75" fill="#4060ad"/><circle cx="174.22" cy="1107.83" r="8.75" fill="#4060ad"/><circle cx="201.66" cy="1145.84" r="8.75" fill="#4060ad"/><circle cx="256.54" cy="1189.17" r="8.75" fill="#4060ad"/><circle cx="421.18" cy="1227.18" r="8.75" fill="#4060ad"/><circle cx="750.46" cy="1243.14" r="8.75" fill="#4060ad"/>
<text transform="translate(69.9,1257.3) scale(1,1.11)" text-anchor="end" font-weight="bold" font-size="26.5">0</text><text transform="translate(69.9,1105.27) scale(1,1.11)" text-anchor="end" font-weight="bold" font-size="26.5">20</text><text transform="translate(69.9,953.23) scale(1,1.11)" text-anchor="end" font-weight="bold" font-size="26.5">40</text><text transform="translate(69.9,801.2) scale(1,1.11)" text-anchor="end" font-weight="bold" font-size="26.5">60</text><text transform="translate(91.9,1294.3) scale(1,1.11)" text-anchor="middle" font-weight="bold" font-size="26.5">0</text><text transform="translate(229.1,1294.3) scale(1,1.11)" text-anchor="middle" font-weight="bold" font-size="26.5">10</text><text transform="translate(366.3,1294.3) scale(1,1.11)" text-anchor="middle" font-weight="bold" font-size="26.5">20</text><text transform="translate(503.5,1294.3) scale(1,1.11)" text-anchor="middle" font-weight="bold" font-size="26.5">30</text><text transform="translate(640.7,1294.3) scale(1,1.11)" text-anchor="middle" font-weight="bold" font-size="26.5">40</text><text transform="translate(777.9,1294.3) scale(1,1.11)" text-anchor="middle" font-weight="bold" font-size="26.5">50</text>
<text transform="translate(434.9,1335) scale(1,1.08)" text-anchor="middle" font-weight="bold" font-size="28">Time (h)</text>
<text transform="translate(24.5,1019.65) rotate(-90) scale(1,1.08)" text-anchor="middle" font-weight="bold" font-size="28">ng/mL</text>
<text transform="translate(1412.6,746) scale(1,1.06)" text-anchor="middle" font-weight="bold" font-size="33">(D)</text>
<g stroke="#1a1714" stroke-width="5.3" fill="none" stroke-linejoin="miter"><path d="M1051.5 790.3H1069.6V1265.8"/><path d="M1051.5 1247.7H1755.6V1265.8"/><line x1="1051.5" y1="1095.23" x2="1069.6" y2="1095.23"/><line x1="1051.5" y1="942.77" x2="1069.6" y2="942.77"/><line x1="1206.8" y1="1247.7" x2="1206.8" y2="1265.8"/><line x1="1344" y1="1247.7" x2="1344" y2="1265.8"/><line x1="1481.2" y1="1247.7" x2="1481.2" y2="1265.8"/><line x1="1618.4" y1="1247.7" x2="1618.4" y2="1265.8"/></g>
<g stroke="#7ab648" fill="none" stroke-linecap="round"><line x1="1076.46" y1="1043.03" x2="1076.46" y2="995.64" stroke-width="2.0"/><line x1="1067.66" y1="995.64" x2="1085.26" y2="995.64" stroke-width="1.8"/><line x1="1083.32" y1="922.9" x2="1083.32" y2="901.32" stroke-width="2.0"/><line x1="1074.52" y1="901.32" x2="1092.12" y2="901.32" stroke-width="1.8"/><line x1="1083.32" y1="922.9" x2="1083.32" y2="955.1" stroke-width="2.0"/><line x1="1074.52" y1="955.1" x2="1092.12" y2="955.1" stroke-width="1.8"/><line x1="1090.18" y1="889.96" x2="1090.18" y2="864.52" stroke-width="2.0"/><line x1="1081.38" y1="864.52" x2="1098.98" y2="864.52" stroke-width="1.8"/><line x1="1090.18" y1="889.96" x2="1090.18" y2="931.81" stroke-width="2.0"/><line x1="1081.38" y1="931.81" x2="1098.98" y2="931.81" stroke-width="1.8"/><line x1="1097.04" y1="888.78" x2="1097.04" y2="860.38" stroke-width="2.0"/><line x1="1088.24" y1="860.38" x2="1105.84" y2="860.38" stroke-width="1.8"/><line x1="1097.04" y1="888.78" x2="1097.04" y2="939.54" stroke-width="2.0"/><line x1="1088.24" y1="939.54" x2="1105.84" y2="939.54" stroke-width="1.8"/><line x1="1103.9" y1="884.11" x2="1103.9" y2="849.02" stroke-width="2.0"/><line x1="1095.1" y1="849.02" x2="1112.7" y2="849.02" stroke-width="1.8"/><line x1="1103.9" y1="884.11" x2="1103.9" y2="963.61" stroke-width="2.0"/><line x1="1095.1" y1="963.61" x2="1112.7" y2="963.61" stroke-width="1.8"/><line x1="1110.76" y1="887.04" x2="1110.76" y2="852.48" stroke-width="2.0"/><line x1="1101.96" y1="852.48" x2="1119.56" y2="852.48" stroke-width="1.8"/><line x1="1110.76" y1="887.04" x2="1110.76" y2="963.61" stroke-width="2.0"/><line x1="1101.96" y1="963.61" x2="1119.56" y2="963.61" stroke-width="1.8"/><line x1="1124.48" y1="896.54" x2="1124.48" y2="859.25" stroke-width="2.0"/><line x1="1115.68" y1="859.25" x2="1133.28" y2="859.25" stroke-width="1.8"/><line x1="1124.48" y1="896.54" x2="1124.48" y2="990" stroke-width="2.0"/><line x1="1115.68" y1="990" x2="1133.28" y2="990" stroke-width="1.8"/><line x1="1151.92" y1="931.81" x2="1151.92" y2="886.19" stroke-width="2.0"/><line x1="1143.12" y1="886.19" x2="1160.72" y2="886.19" stroke-width="1.8"/><line x1="1151.92" y1="931.81" x2="1151.92" y2="1247.7" stroke-width="2.0"/><line x1="1143.12" y1="1247.7" x2="1160.72" y2="1247.7" stroke-width="1.8"/><line x1="1179.36" y1="951.23" x2="1179.36" y2="908.81" stroke-width="2.0"/><line x1="1170.56" y1="908.81" x2="1188.16" y2="908.81" stroke-width="1.8"/><line x1="1179.36" y1="951.23" x2="1179.36" y2="1102.21" stroke-width="2.0"/><line x1="1170.56" y1="1102.21" x2="1188.16" y2="1102.21" stroke-width="1.8"/><line x1="1234.24" y1="984.81" x2="1234.24" y2="941.46" stroke-width="2.0"/><line x1="1225.44" y1="941.46" x2="1243.04" y2="941.46" stroke-width="1.8"/><line x1="1234.24" y1="984.81" x2="1234.24" y2="1155.91" stroke-width="2.0"/><line x1="1225.44" y1="1155.91" x2="1243.04" y2="1155.91" stroke-width="1.8"/><line x1="1398.88" y1="1049.34" x2="1398.88" y2="1008.6" stroke-width="2.0"/><line x1="1390.08" y1="1008.6" x2="1407.68" y2="1008.6" stroke-width="1.8"/><line x1="1398.88" y1="1049.34" x2="1398.88" y2="1174.95" stroke-width="2.0"/><line x1="1390.08" y1="1174.95" x2="1407.68" y2="1174.95" stroke-width="1.8"/><line x1="1728.16" y1="1157.58" x2="1728.16" y2="1118.85" stroke-width="2.0"/><line x1="1719.36" y1="1118.85" x2="1736.96" y2="1118.85" stroke-width="1.8"/></g>
<polyline points="1076.46,1043.03 1083.32,922.9 1090.18,889.96 1097.04,888.78 1103.9,884.11 1110.76,887.04 1124.48,896.54 1151.92,931.81 1179.36,951.23 1234.24,984.81 1398.88,1049.34 1728.16,1157.58" fill="none" stroke="#7ab648" stroke-width="1.7" stroke-linejoin="round"/>
<polygon points="1076.46,1034.53 1084.96,1051.53 1067.96,1051.53" fill="#7ab648"/><polygon points="1083.32,914.4 1091.82,931.4 1074.82,931.4" fill="#7ab648"/><polygon points="1090.18,881.46 1098.68,898.46 1081.68,898.46" fill="#7ab648"/><polygon points="1097.04,880.28 1105.54,897.28 1088.54,897.28" fill="#7ab648"/><polygon points="1103.9,875.61 1112.4,892.61 1095.4,892.61" fill="#7ab648"/><polygon points="1110.76,878.54 1119.26,895.54 1102.26,895.54" fill="#7ab648"/><polygon points="1124.48,888.04 1132.98,905.04 1115.98,905.04" fill="#7ab648"/><polygon points="1151.92,923.31 1160.42,940.31 1143.42,940.31" fill="#7ab648"/><polygon points="1179.36,942.73 1187.86,959.73 1170.86,959.73" fill="#7ab648"/><polygon points="1234.24,976.31 1242.74,993.31 1225.74,993.31" fill="#7ab648"/><polygon points="1398.88,1040.84 1407.38,1057.84 1390.38,1057.84" fill="#7ab648"/><polygon points="1728.16,1149.08 1736.66,1166.08 1719.66,1166.08" fill="#7ab648"/>
<g stroke="#cf4b20" fill="none" stroke-linecap="round"><line x1="1076.46" y1="1034.56" x2="1076.46" y2="988.66" stroke-width="2.0"/><line x1="1067.66" y1="988.66" x2="1085.26" y2="988.66" stroke-width="1.8"/><line x1="1083.32" y1="915.48" x2="1083.32" y2="883.97" stroke-width="2.0"/><line x1="1074.52" y1="883.97" x2="1092.12" y2="883.97" stroke-width="1.8"/><line x1="1083.32" y1="915.48" x2="1083.32" y2="977.7" stroke-width="2.0"/><line x1="1074.52" y1="977.7" x2="1092.12" y2="977.7" stroke-width="1.8"/><line x1="1090.18" y1="889.66" x2="1090.18" y2="856.85" stroke-width="2.0"/><line x1="1081.38" y1="856.85" x2="1098.98" y2="856.85" stroke-width="1.8"/><line x1="1090.18" y1="889.66" x2="1090.18" y2="957.54" stroke-width="2.0"/><line x1="1081.38" y1="957.54" x2="1098.98" y2="957.54" stroke-width="1.8"/><line x1="1097.04" y1="879.75" x2="1097.04" y2="843.62" stroke-width="2.0"/><line x1="1088.24" y1="843.62" x2="1105.84" y2="843.62" stroke-width="1.8"/><line x1="1097.04" y1="879.75" x2="1097.04" y2="965.44" stroke-width="2.0"/><line x1="1088.24" y1="965.44" x2="1105.84" y2="965.44" stroke-width="1.8"/><line x1="1103.9" y1="877.24" x2="1103.9" y2="841.43" stroke-width="2.0"/><line x1="1095.1" y1="841.43" x2="1112.7" y2="841.43" stroke-width="1.8"/><line x1="1103.9" y1="877.24" x2="1103.9" y2="960.94" stroke-width="2.0"/><line x1="1095.1" y1="960.94" x2="1112.7" y2="960.94" stroke-width="1.8"/><line x1="1110.76" y1="880.01" x2="1110.76" y2="842.59" stroke-width="2.0"/><line x1="1101.96" y1="842.59" x2="1119.56" y2="842.59" stroke-width="1.8"/><line x1="1110.76" y1="880.01" x2="1110.76" y2="974.42" stroke-width="2.0"/><line x1="1101.96" y1="974.42" x2="1119.56" y2="974.42" stroke-width="1.8"/><line x1="1124.48" y1="892.7" x2="1124.48" y2="855.96" stroke-width="2.0"/><line x1="1115.68" y1="855.96" x2="1133.28" y2="855.96" stroke-width="1.8"/><line x1="1124.48" y1="892.7" x2="1124.48" y2="982.35" stroke-width="2.0"/><line x1="1115.68" y1="982.35" x2="1133.28" y2="982.35" stroke-width="1.8"/><line x1="1151.92" y1="930.14" x2="1151.92" y2="887.62" stroke-width="2.0"/><line x1="1143.12" y1="887.62" x2="1160.72" y2="887.62" stroke-width="1.8"/><line x1="1151.92" y1="930.14" x2="1151.92" y2="1083.16" stroke-width="2.0"/><line x1="1143.12" y1="1083.16" x2="1160.72" y2="1083.16" stroke-width="1.8"/><line x1="1179.36" y1="949.74" x2="1179.36" y2="909.61" stroke-width="2.0"/><line x1="1170.56" y1="909.61" x2="1188.16" y2="909.61" stroke-width="1.8"/><line x1="1179.36" y1="949.74" x2="1179.36" y2="1068.39" stroke-width="2.0"/><line x1="1170.56" y1="1068.39" x2="1188.16" y2="1068.39" stroke-width="1.8"/><line x1="1234.24" y1="982.35" x2="1234.24" y2="944.1" stroke-width="2.0"/><line x1="1225.44" y1="944.1" x2="1243.04" y2="944.1" stroke-width="1.8"/><line x1="1234.24" y1="982.35" x2="1234.24" y2="1083.16" stroke-width="2.0"/><line x1="1225.44" y1="1083.16" x2="1243.04" y2="1083.16" stroke-width="1.8"/><line x1="1398.88" y1="1043.03" x2="1398.88" y2="1006.84" stroke-width="2.0"/><line x1="1390.08" y1="1006.84" x2="1407.68" y2="1006.84" stroke-width="1.8"/><line x1="1398.88" y1="1043.03" x2="1398.88" y2="1129.06" stroke-width="2.0"/><line x1="1390.08" y1="1129.06" x2="1407.68" y2="1129.06" stroke-width="1.8"/><line x1="1728.16" y1="1141.13" x2="1728.16" y2="1102.21" stroke-width="2.0"/><line x1="1719.36" y1="1102.21" x2="1736.96" y2="1102.21" stroke-width="1.8"/><line x1="1728.16" y1="1141.13" x2="1728.16" y2="1247.7" stroke-width="2.0"/><line x1="1719.36" y1="1247.7" x2="1736.96" y2="1247.7" stroke-width="1.8"/></g>
<polyline points="1076.46,1034.56 1083.32,915.48 1090.18,889.66 1097.04,879.75 1103.9,877.24 1110.76,880.01 1124.48,892.7 1151.92,930.14 1179.36,949.74 1234.24,982.35 1398.88,1043.03 1728.16,1141.13" fill="none" stroke="#cf4b20" stroke-width="1.7" stroke-linejoin="round"/>
<rect x="1067.76" y="1025.86" width="17.4" height="17.4" fill="#cf4b20"/><rect x="1074.62" y="906.78" width="17.4" height="17.4" fill="#cf4b20"/><rect x="1081.48" y="880.96" width="17.4" height="17.4" fill="#cf4b20"/><rect x="1088.34" y="871.05" width="17.4" height="17.4" fill="#cf4b20"/><rect x="1095.2" y="868.54" width="17.4" height="17.4" fill="#cf4b20"/><rect x="1102.06" y="871.31" width="17.4" height="17.4" fill="#cf4b20"/><rect x="1115.78" y="884" width="17.4" height="17.4" fill="#cf4b20"/><rect x="1143.22" y="921.44" width="17.4" height="17.4" fill="#cf4b20"/><rect x="1170.66" y="941.04" width="17.4" height="17.4" fill="#cf4b20"/><rect x="1225.54" y="973.65" width="17.4" height="17.4" fill="#cf4b20"/><rect x="1390.18" y="1034.33" width="17.4" height="17.4" fill="#cf4b20"/><rect x="1719.46" y="1132.43" width="17.4" height="17.4" fill="#cf4b20"/>
<g stroke="#4060ad" fill="none" stroke-linecap="round"><line x1="1076.46" y1="1014.2" x2="1076.46" y2="960.94" stroke-width="2.0"/><line x1="1067.66" y1="960.94" x2="1085.26" y2="960.94" stroke-width="1.8"/><line x1="1083.32" y1="895.88" x2="1083.32" y2="863.31" stroke-width="2.0"/><line x1="1074.52" y1="863.31" x2="1092.12" y2="863.31" stroke-width="1.8"/><line x1="1083.32" y1="895.88" x2="1083.32" y2="962.7" stroke-width="2.0"/><line x1="1074.52" y1="962.7" x2="1092.12" y2="962.7" stroke-width="1.8"/><line x1="1090.18" y1="871.36" x2="1090.18" y2="845.57" stroke-width="2.0"/><line x1="1081.38" y1="845.57" x2="1098.98" y2="845.57" stroke-width="1.8"/><line x1="1090.18" y1="871.36" x2="1090.18" y2="914.18" stroke-width="2.0"/><line x1="1081.38" y1="914.18" x2="1098.98" y2="914.18" stroke-width="1.8"/><line x1="1097.04" y1="857.58" x2="1097.04" y2="836.13" stroke-width="2.0"/><line x1="1088.24" y1="836.13" x2="1105.84" y2="836.13" stroke-width="1.8"/><line x1="1097.04" y1="857.58" x2="1097.04" y2="889.51" stroke-width="2.0"/><line x1="1088.24" y1="889.51" x2="1105.84" y2="889.51" stroke-width="1.8"/><line x1="1103.9" y1="860.77" x2="1103.9" y2="836.6" stroke-width="2.0"/><line x1="1095.1" y1="836.6" x2="1112.7" y2="836.6" stroke-width="1.8"/><line x1="1103.9" y1="860.77" x2="1103.9" y2="899.23" stroke-width="2.0"/><line x1="1095.1" y1="899.23" x2="1112.7" y2="899.23" stroke-width="1.8"/><line x1="1110.76" y1="859.81" x2="1110.76" y2="833.22" stroke-width="2.0"/><line x1="1101.96" y1="833.22" x2="1119.56" y2="833.22" stroke-width="1.8"/><line x1="1110.76" y1="859.81" x2="1110.76" y2="904.96" stroke-width="2.0"/><line x1="1101.96" y1="904.96" x2="1119.56" y2="904.96" stroke-width="1.8"/><line x1="1124.48" y1="871.36" x2="1124.48" y2="843.03" stroke-width="2.0"/><line x1="1115.68" y1="843.03" x2="1133.28" y2="843.03" stroke-width="1.8"/><line x1="1124.48" y1="871.36" x2="1124.48" y2="921.92" stroke-width="2.0"/><line x1="1115.68" y1="921.92" x2="1133.28" y2="921.92" stroke-width="1.8"/><line x1="1151.92" y1="902.39" x2="1151.92" y2="874.35" stroke-width="2.0"/><line x1="1143.12" y1="874.35" x2="1160.72" y2="874.35" stroke-width="1.8"/><line x1="1151.92" y1="902.39" x2="1151.92" y2="951.99" stroke-width="2.0"/><line x1="1143.12" y1="951.99" x2="1160.72" y2="951.99" stroke-width="1.8"/><line x1="1179.36" y1="923.39" x2="1179.36" y2="891.77" stroke-width="2.0"/><line x1="1170.56" y1="891.77" x2="1188.16" y2="891.77" stroke-width="1.8"/><line x1="1179.36" y1="923.39" x2="1179.36" y2="986.07" stroke-width="2.0"/><line x1="1170.56" y1="986.07" x2="1188.16" y2="986.07" stroke-width="1.8"/><line x1="1234.24" y1="960.07" x2="1234.24" y2="932.94" stroke-width="2.0"/><line x1="1225.44" y1="932.94" x2="1243.04" y2="932.94" stroke-width="1.8"/><line x1="1234.24" y1="960.07" x2="1234.24" y2="1006.84" stroke-width="2.0"/><line x1="1225.44" y1="1006.84" x2="1243.04" y2="1006.84" stroke-width="1.8"/><line x1="1398.88" y1="1029.46" x2="1398.88" y2="1002.13" stroke-width="2.0"/><line x1="1390.08" y1="1002.13" x2="1407.68" y2="1002.13" stroke-width="1.8"/><line x1="1398.88" y1="1029.46" x2="1398.88" y2="1076.85" stroke-width="2.0"/><line x1="1390.08" y1="1076.85" x2="1407.68" y2="1076.85" stroke-width="1.8"/><line x1="1728.16" y1="1129.06" x2="1728.16" y2="1110.01" stroke-width="2.0"/><line x1="1719.36" y1="1110.01" x2="1736.96" y2="1110.01" stroke-width="1.8"/><line x1="1728.16" y1="1129.06" x2="1728.16" y2="1155.91" stroke-width="2.0"/><line x1="1719.36" y1="1155.91" x2="1736.96" y2="1155.91" stroke-width="1.8"/></g>
<polyline points="1076.46,1014.2 1083.32,895.88 1090.18,871.36 1097.04,857.58 1103.9,860.77 1110.76,859.81 1124.48,871.36 1151.92,902.39 1179.36,923.39 1234.24,960.07 1398.88,1029.46 1728.16,1129.06" fill="none" stroke="#4060ad" stroke-width="1.7" stroke-linejoin="round"/>
<circle cx="1076.46" cy="1014.2" r="8.75" fill="#4060ad"/><circle cx="1083.32" cy="895.88" r="8.75" fill="#4060ad"/><circle cx="1090.18" cy="871.36" r="8.75" fill="#4060ad"/><circle cx="1097.04" cy="857.58" r="8.75" fill="#4060ad"/><circle cx="1103.9" cy="860.77" r="8.75" fill="#4060ad"/><circle cx="1110.76" cy="859.81" r="8.75" fill="#4060ad"/><circle cx="1124.48" cy="871.36" r="8.75" fill="#4060ad"/><circle cx="1151.92" cy="902.39" r="8.75" fill="#4060ad"/><circle cx="1179.36" cy="923.39" r="8.75" fill="#4060ad"/><circle cx="1234.24" cy="960.07" r="8.75" fill="#4060ad"/><circle cx="1398.88" cy="1029.46" r="8.75" fill="#4060ad"/><circle cx="1728.16" cy="1129.06" r="8.75" fill="#4060ad"/>
<text transform="translate(1047.6,1258.7) scale(1,1.11)" text-anchor="end" font-weight="bold" font-size="26.5">10<tspan font-size="19.5" dy="-8.8">-1</tspan></text><text transform="translate(1047.6,1106.23) scale(1,1.11)" text-anchor="end" font-weight="bold" font-size="26.5">10<tspan font-size="19.5" dy="-8.8">0</tspan></text><text transform="translate(1047.6,953.77) scale(1,1.11)" text-anchor="end" font-weight="bold" font-size="26.5">10<tspan font-size="19.5" dy="-8.8">1</tspan></text><text transform="translate(1047.6,801.3) scale(1,1.11)" text-anchor="end" font-weight="bold" font-size="26.5">10<tspan font-size="19.5" dy="-8.8">2</tspan></text><text transform="translate(1069.6,1294.3) scale(1,1.11)" text-anchor="middle" font-weight="bold" font-size="26.5">0</text><text transform="translate(1206.8,1294.3) scale(1,1.11)" text-anchor="middle" font-weight="bold" font-size="26.5">10</text><text transform="translate(1344,1294.3) scale(1,1.11)" text-anchor="middle" font-weight="bold" font-size="26.5">20</text><text transform="translate(1481.2,1294.3) scale(1,1.11)" text-anchor="middle" font-weight="bold" font-size="26.5">30</text><text transform="translate(1618.4,1294.3) scale(1,1.11)" text-anchor="middle" font-weight="bold" font-size="26.5">40</text><text transform="translate(1755.6,1294.3) scale(1,1.11)" text-anchor="middle" font-weight="bold" font-size="26.5">50</text>
<text transform="translate(1412.6,1335) scale(1,1.08)" text-anchor="middle" font-weight="bold" font-size="28">Time (h)</text>
<text transform="translate(978.8,1019) rotate(-90) scale(1,1.08)" text-anchor="middle" font-weight="bold" font-size="28">log<tspan font-weight="normal" font-size="19">10</tspan> (ng/mL)</text>
</svg></body></html>
